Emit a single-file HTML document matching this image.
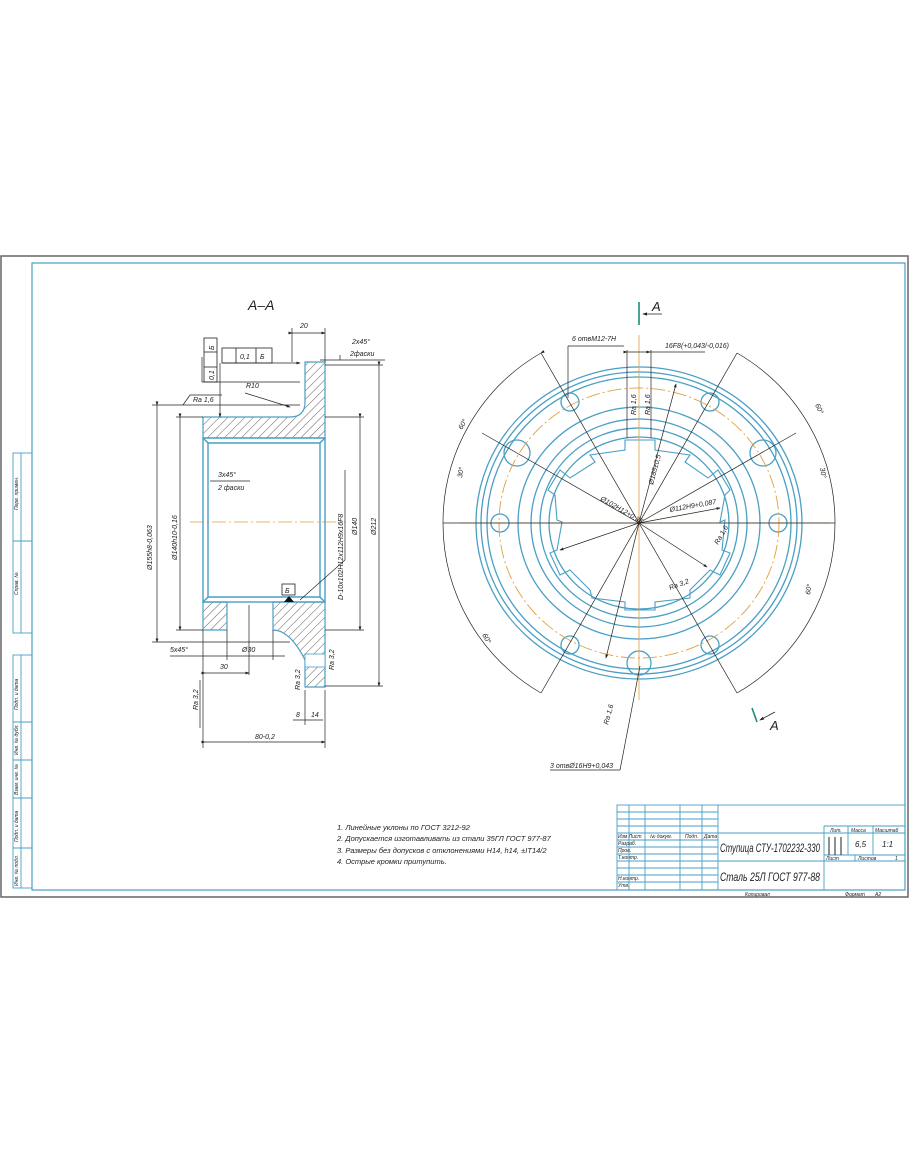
<!DOCTYPE html>
<html><head><meta charset="utf-8"><style>
html,body{margin:0;padding:0;background:#fff}
svg{display:block}
text{font-family:"Liberation Sans",sans-serif;font-style:italic;fill:#222}
</style></head><body>
<svg width="910" height="1155" viewBox="0 0 910 1155" xmlns="http://www.w3.org/2000/svg">
<defs>
<pattern id="h" width="6" height="6" patternUnits="userSpaceOnUse" patternTransform="rotate(45)">
<line x1="0" y1="0" x2="0" y2="6" stroke="#333" stroke-width="0.8"/>
</pattern>
<marker id="a" markerWidth="6" markerHeight="6" refX="5" refY="3" orient="auto"><path d="M0,1 L6,3 L0,5 z" fill="#222"/></marker>
</defs>
<rect x="1" y="256" width="907" height="641" fill="none" stroke="#666" stroke-width="1.5"/>
<rect x="32" y="263" width="873" height="627" fill="none" stroke="#4a9fc4" stroke-width="1.2"/>
<g fill="none" stroke="#4a9fc4" stroke-width="0.9">
<rect x="13" y="453" width="19" height="180"/><line x1="21" y1="453" x2="21" y2="633"/><line x1="13" y1="541" x2="32" y2="541"/>
<rect x="13" y="655" width="19" height="233"/><line x1="21" y1="655" x2="21" y2="888"/>
<line x1="13" y1="722" x2="32" y2="722"/><line x1="13" y1="760" x2="32" y2="760"/><line x1="13" y1="798" x2="32" y2="798"/><line x1="13" y1="848" x2="32" y2="848"/>
</g>
<g font-size="5">
<text transform="translate(18,510) rotate(-90)">Перв. примен.</text>
<text transform="translate(18,595) rotate(-90)">Справ. №</text>
<text transform="translate(18,710) rotate(-90)">Подп. и дата</text>
<text transform="translate(18,755) rotate(-90)">Инв. № дубл.</text>
<text transform="translate(18,795) rotate(-90)">Взам. инв. №</text>
<text transform="translate(18,842) rotate(-90)">Подп. и дата</text>
<text transform="translate(18,886) rotate(-90)">Инв. № подл.</text>
</g>

<text x="248" y="310" font-size="14">А–А</text>
<line x1="190" y1="522" x2="345" y2="522" stroke="#e0a040" stroke-width="0.8" stroke-dasharray="14,3,2,3"/>
<path d="M203,438 L203,417 L290,417 Q305,417 305,402 L305,362 L325,362 L325,438 Z" fill="url(#h)" stroke="#4a9fc4" stroke-width="1.2"/>
<path d="M203,602 L227,602 L227,630 L203,630 Z" fill="url(#h)" stroke="#4a9fc4" stroke-width="1.2"/>
<path d="M273,602 L325,602 L325,687 L305,687 L305,660 Q290,630 273,630 Z" fill="url(#h)" stroke="#4a9fc4" stroke-width="1.2"/>
<rect x="305" y="654" width="20" height="13" fill="#fff" stroke="#4a9fc4" stroke-width="0.8"/>
<g fill="none" stroke="#4a9fc4" stroke-width="1.4">
<rect x="203" y="438" width="122" height="164"/>
<line x1="208" y1="443" x2="208" y2="597"/><line x1="320" y1="443" x2="320" y2="597"/>
<line x1="203" y1="438" x2="208" y2="443"/><line x1="325" y1="438" x2="320" y2="443"/>
<line x1="203" y1="602" x2="208" y2="597"/><line x1="325" y1="602" x2="320" y2="597"/>
<line x1="208" y1="443" x2="320" y2="443"/><line x1="208" y1="597" x2="320" y2="597"/>
</g>
<g stroke="#222" stroke-width="0.7" fill="none">
<line x1="157" y1="405" x2="157" y2="642" marker-start="url(#a)" marker-end="url(#a)"/>
<line x1="152" y1="405" x2="300" y2="405"/><line x1="152" y1="642" x2="290" y2="642"/>
<line x1="180" y1="417" x2="180" y2="630" marker-start="url(#a)" marker-end="url(#a)"/>
<line x1="176" y1="417" x2="203" y2="417"/><line x1="176" y1="630" x2="203" y2="630"/>
<line x1="360" y1="417" x2="360" y2="630" marker-start="url(#a)" marker-end="url(#a)"/>
<line x1="325" y1="417" x2="364" y2="417"/><line x1="325" y1="630" x2="364" y2="630"/>
<line x1="379" y1="365" x2="379" y2="686" marker-start="url(#a)" marker-end="url(#a)"/>
<line x1="325" y1="365" x2="383" y2="365"/><line x1="325" y1="686" x2="383" y2="686"/>
<line x1="292" y1="333" x2="325" y2="333" marker-start="url(#a)" marker-end="url(#a)"/>
<line x1="292" y1="328" x2="292" y2="362"/><line x1="325" y1="328" x2="325" y2="362"/>
<line x1="205" y1="742" x2="325" y2="742" marker-start="url(#a)" marker-end="url(#a)"/>
<line x1="203" y1="630" x2="203" y2="748"/><line x1="325" y1="690" x2="325" y2="748"/>
<line x1="205" y1="673" x2="249" y2="673" marker-start="url(#a)" marker-end="url(#a)"/>
<line x1="249" y1="605" x2="249" y2="675"/>
<line x1="227" y1="630" x2="227" y2="660"/><line x1="273" y1="630" x2="273" y2="660"/>
<line x1="170" y1="656" x2="285" y2="656"/>
<line x1="293" y1="720" x2="323" y2="720"/><line x1="305" y1="690" x2="305" y2="725"/>
<line x1="320" y1="360" x2="385" y2="360"/><line x1="340" y1="360" x2="340" y2="355"/>
<line x1="202" y1="382" x2="300" y2="382"/><line x1="202" y1="382" x2="202" y2="357"/>
<line x1="220" y1="363" x2="220" y2="417" marker-end="url(#a)"/>
<line x1="222" y1="363" x2="300" y2="363" marker-end="url(#a)"/>
<line x1="245" y1="393" x2="290" y2="407" marker-end="url(#a)"/>
<line x1="210" y1="481" x2="250" y2="481"/>
<line x1="300" y1="600" x2="345" y2="560"/><line x1="345" y1="560" x2="345" y2="470"/>
<line x1="183" y1="405" x2="190" y2="395"/><line x1="190" y1="395" x2="222" y2="395"/>
<line x1="200" y1="728" x2="200" y2="680"/>
</g>
<g fill="none" stroke="#222" stroke-width="0.8">
<rect x="204" y="338" width="13" height="44"/><line x1="204" y1="352" x2="217" y2="352"/><line x1="204" y1="367" x2="217" y2="367"/>
<rect x="222" y="348" width="50" height="15"/><line x1="236" y1="348" x2="236" y2="363"/><line x1="256" y1="348" x2="256" y2="363"/>
<rect x="282" y="584" width="13" height="11"/>
</g>
<path d="M284,602 L289,596 L294,602 Z" fill="#111"/>
<g font-size="7">
<text x="300" y="328">20</text>
<text x="352" y="344">2x45°</text><text x="350" y="356">2фаски</text>
<text x="246" y="388">R10</text>
<text x="240" y="359">0,1</text><text x="260" y="359">Б</text>
<text transform="translate(214,380) rotate(-90)">0,1</text><text transform="translate(214,350) rotate(-90)">Б</text>
<text x="193" y="402">Ra 1,6</text>
<text x="218" y="477">3x45°</text><text x="218" y="490">2 фаски</text>
<text transform="translate(152,570) rotate(-90)">Ø155h8-0,063</text>
<text transform="translate(177,560) rotate(-90)">Ø140h10-0,16</text>
<text transform="translate(343,600) rotate(-90)">D-10x102H12x112H9x16F8</text>
<text transform="translate(357,535) rotate(-90)">Ø140</text>
<text transform="translate(376,535) rotate(-90)">Ø212</text>
<text x="285" y="593">Б</text>
<text x="170" y="652">5x45°</text>
<text x="242" y="652">Ø30</text>
<text x="220" y="669">30</text>
<text transform="translate(300,690) rotate(-90)">Ra 3,2</text>
<text transform="translate(334,670) rotate(-90)">Ra 3,2</text>
<text transform="translate(198,710) rotate(-90)">Ra 3,2</text>
<text x="296" y="717">8</text><text x="311" y="717">14</text>
<text x="255" y="739">80-0,2</text>
</g>

<g fill="none" stroke="#4a9fc4" stroke-width="1.3">
<ellipse cx="639" cy="523" rx="163" ry="156"/>
<ellipse cx="639" cy="523" rx="158" ry="151"/>
<ellipse cx="639" cy="523" rx="152" ry="146"/>
<ellipse cx="639" cy="523" rx="121" ry="116"/>
<ellipse cx="639" cy="523" rx="108" ry="104"/>
<ellipse cx="639" cy="523" rx="99" ry="95"/>
<ellipse cx="639" cy="523" rx="90" ry="86"/>
<circle cx="570" cy="402" r="9"/><circle cx="710" cy="402" r="9"/>
<circle cx="500" cy="523" r="9"/><circle cx="778" cy="523" r="9"/>
<circle cx="570" cy="645" r="9"/><circle cx="710" cy="645" r="9"/>
<circle cx="517" cy="453" r="13"/><circle cx="763" cy="453" r="13"/>
<circle cx="639" cy="663" r="12"/>
</g>
<g fill="none" stroke="#4a9fc4" stroke-width="1.1">
<path d="M625,440 L625,450 L590,455 L595,462 L570,478 L560,470 L548,490 L555,495 L557,520 L562,522 L557,550 L550,553 L560,575 L570,570 L590,590 L592,598 L625,602 L625,610 L655,610 L655,602 L690,598 L690,590 L710,570 L720,575 L730,553 L722,550 L725,520 L720,522 L725,495 L730,490 L718,470 L708,478 L685,462 L690,455 L655,450 L655,440 Z"/>
</g>
<ellipse cx="639" cy="523" rx="140" ry="135" fill="none" stroke="#e0a040" stroke-width="0.9" stroke-dasharray="14,3,2,3"/>
<line x1="460" y1="523" x2="830" y2="523" stroke="#e0a040" stroke-width="0.8"/>
<line x1="639" y1="335" x2="639" y2="700" stroke="#e0a040" stroke-width="0.8"/>
<g stroke="#222" stroke-width="0.7" fill="none">
<line x1="639" y1="523" x2="541" y2="353"/><line x1="639" y1="523" x2="737" y2="353"/>
<line x1="639" y1="523" x2="541" y2="693"/><line x1="639" y1="523" x2="737" y2="693"/>
<line x1="639" y1="523" x2="482" y2="433"/><line x1="639" y1="523" x2="796" y2="433"/>
<line x1="443" y1="523" x2="835" y2="523"/>
<path d="M541,353 A196,196 0 0 0 443,523" marker-start="url(#a)"/>
<path d="M737,353 A196,196 0 0 1 835,523"/>
<path d="M443,523 A196,196 0 0 0 541,693"/>
<path d="M835,523 A196,196 0 0 1 737,693"/>
<line x1="639" y1="523" x2="676" y2="384" marker-end="url(#a)"/>
<line x1="639" y1="523" x2="560" y2="550" marker-end="url(#a)"/>
<line x1="639" y1="523" x2="720" y2="508" marker-end="url(#a)"/>
<line x1="639" y1="523" x2="606" y2="658" marker-end="url(#a)"/>
<line x1="639" y1="523" x2="707" y2="567" marker-end="url(#a)"/>
<line x1="568" y1="398" x2="568" y2="346"/><line x1="568" y1="346" x2="624" y2="346"/>
<line x1="627" y1="352" x2="650" y2="352" marker-start="url(#a)" marker-end="url(#a)"/>
<line x1="627" y1="350" x2="627" y2="438"/><line x1="651" y1="350" x2="651" y2="438"/>
<line x1="650" y1="352" x2="705" y2="352"/>
<line x1="640" y1="666" x2="620" y2="770"/><line x1="620" y1="770" x2="550" y2="770"/>
</g>
<line x1="639" y1="302" x2="639" y2="325" stroke="#1f8a7a" stroke-width="1.6"/>
<line x1="662" y1="314" x2="643" y2="314" stroke="#222" stroke-width="0.8" marker-end="url(#a)"/>
<line x1="752" y1="708" x2="757" y2="722" stroke="#1f8a7a" stroke-width="1.6"/>
<line x1="775" y1="712" x2="760" y2="720" stroke="#222" stroke-width="0.8" marker-end="url(#a)"/>
<g font-size="7">
<text x="652" y="311" font-size="13" font-style="normal">А</text>
<text x="770" y="730" font-size="13" font-style="normal">А</text>
<text x="572" y="341">6 отвM12-7H</text>
<text x="665" y="348">16F8(+0,043/-0,016)</text>
<text transform="translate(636,415) rotate(-90)">Ra 1,6</text>
<text transform="translate(650,415) rotate(-90)">Ra 1,6</text>
<text transform="translate(653,485) rotate(-75)">Ø185±0,5</text>
<text transform="translate(600,500) rotate(30)">Ø102H12+0,35</text>
<text transform="translate(670,512) rotate(-10)">Ø112H9+0,087</text>
<text transform="translate(718,545) rotate(-60)">Ra 1,6</text>
<text transform="translate(670,590) rotate(-20)">Ra 3,2</text>
<text transform="translate(608,725) rotate(-75)">Ra 1,6</text>
<text x="550" y="768">3 отвØ16H9+0,043</text>
<text transform="translate(462,430) rotate(-60)">60°</text>
<text transform="translate(462,478) rotate(-80)">30°</text>
<text transform="translate(482,635) rotate(60)">60°</text>
<text transform="translate(815,405) rotate(65)">60°</text>
<text transform="translate(820,468) rotate(80)">30°</text>
<text transform="translate(810,595) rotate(-80)">60°</text>
</g>

<g font-size="7.5">
<text x="337" y="830">1. Линейные уклоны по ГОСТ 3212-92</text>
<text x="337" y="841">2. Допускается изготавливать из стали 35ГЛ ГОСТ 977-87</text>
<text x="337" y="853">3. Размеры без допусков с отклонениями H14, h14, ±IT14/2</text>
<text x="337" y="864">4. Острые кромки притупить.</text>
</g>

<g fill="none" stroke="#4a9fc4" stroke-width="0.9">
<rect x="617" y="805" width="288" height="85"/>
<line x1="617" y1="812" x2="718" y2="812"/><line x1="617" y1="819" x2="718" y2="819"/><line x1="617" y1="826" x2="718" y2="826"/>
<line x1="617" y1="833" x2="905" y2="833"/>
<line x1="617" y1="840" x2="718" y2="840"/><line x1="617" y1="847" x2="718" y2="847"/><line x1="617" y1="854" x2="718" y2="854"/><line x1="617" y1="861" x2="905" y2="861"/>
<line x1="617" y1="868" x2="718" y2="868"/><line x1="617" y1="875" x2="718" y2="875"/><line x1="617" y1="882" x2="718" y2="882"/>
<line x1="629" y1="805" x2="629" y2="890"/><line x1="645" y1="805" x2="645" y2="890"/><line x1="680" y1="805" x2="680" y2="890"/><line x1="702" y1="805" x2="702" y2="890"/><line x1="718" y1="805" x2="718" y2="890"/>
<line x1="824" y1="826" x2="824" y2="890"/><line x1="824" y1="826" x2="905" y2="826"/>
<line x1="848" y1="826" x2="848" y2="855"/><line x1="873" y1="826" x2="873" y2="855"/>
<line x1="824" y1="855" x2="905" y2="855"/>
<line x1="855" y1="855" x2="855" y2="861"/>
</g>
<g stroke="#222" stroke-width="1"><line x1="829" y1="837" x2="829" y2="855"/><line x1="835" y1="837" x2="835" y2="855"/><line x1="841" y1="837" x2="841" y2="855"/></g>
<g font-size="5">
<text x="618" y="838">Изм Лист</text><text x="650" y="838">№ докум.</text><text x="685" y="838">Подп.</text><text x="704" y="838">Дата</text>
<text x="618" y="845">Разраб.</text><text x="618" y="852">Пров.</text><text x="618" y="859">Т.контр.</text>
<text x="618" y="880">Н.контр.</text><text x="618" y="887">Утв.</text>
<text x="830" y="832">Лит.</text><text x="851" y="832">Масса</text><text x="875" y="832">Масштаб</text>
<text x="826" y="860">Лист</text><text x="858" y="860">Листов</text><text x="895" y="860">1</text>
<text x="745" y="896">Копировал</text><text x="845" y="896">Формат</text><text x="875" y="896">А2</text>
</g>
<text x="855" y="847" font-size="8">6,5</text><text x="882" y="847" font-size="8">1:1</text>
<text x="720" y="852" font-size="12" textLength="100" lengthAdjust="spacingAndGlyphs">Ступица СТУ-1702232-330</text>
<text x="720" y="881" font-size="12" textLength="100" lengthAdjust="spacingAndGlyphs">Сталь 25Л ГОСТ 977-88</text>
</svg>
</body></html>
